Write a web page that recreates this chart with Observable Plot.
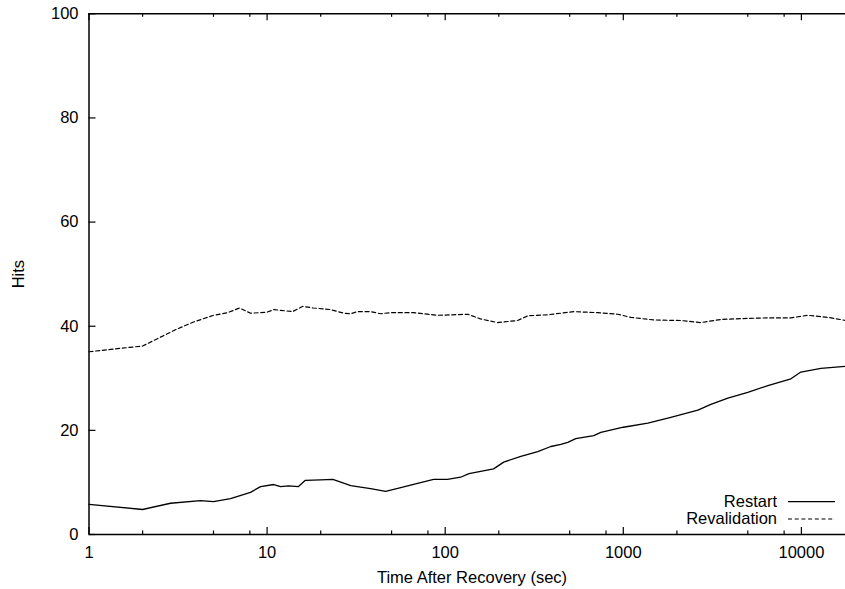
<!DOCTYPE html>
<html><head><meta charset="utf-8">
<script src="https://cdn.jsdelivr.net/npm/d3@7"></script>
<script src="https://cdn.jsdelivr.net/npm/@observablehq/plot@0.6"></script>
<style>html,body{margin:0;padding:0;background:#fff;overflow:hidden}</style>
</head><body><div id="chart"></div>
<script>
const restartTime = [1, 2, 2.87, 4.23, 5, 6.23, 8.07, 9.2, 10.9, 11.9, 13.2, 15, 16.4, 20, 23.4, 29.5, 38.1, 46.3, 56.3, 68.2, 86.1, 103, 122, 136, 187, 213, 266, 331, 392, 446, 488, 541, 683, 748, 1000, 1374, 1849, 2623, 3103, 3866, 5000, 6486, 8733, 9930, 12870, 17780];
const restartHits = [5.8, 4.8, 6.0, 6.5, 6.3, 6.9, 8.1, 9.2, 9.6, 9.2, 9.35, 9.2, 10.4, 10.5, 10.6, 9.4, 8.8, 8.3, 9.0, 9.7, 10.6, 10.6, 11.0, 11.7, 12.6, 13.9, 15.0, 15.9, 16.9, 17.3, 17.7, 18.4, 19.0, 19.6, 20.6, 21.4, 22.5, 23.9, 25.0, 26.2, 27.3, 28.6, 29.9, 31.2, 31.9, 32.3];
const revalTime = [1, 2, 2.52, 3.14, 3.86, 5, 6, 7, 8.07, 10, 10.9, 13.9, 15.8, 18.2, 22.7, 26.9, 29.5, 32.2, 38.1, 43.4, 49.4, 66.5, 90.7, 134, 158, 197, 255, 291, 377, 527, 719, 931, 1102, 1483, 2104, 2724, 3532, 5000, 6486, 8733, 10860, 14100, 17780];
const revalHits = [35.1, 36.2, 37.9, 39.5, 40.8, 42.1, 42.6, 43.5, 42.5, 42.7, 43.2, 42.8, 43.8, 43.5, 43.2, 42.5, 42.4, 42.8, 42.8, 42.4, 42.6, 42.6, 42.1, 42.3, 41.4, 40.7, 41.1, 42.0, 42.2, 42.8, 42.6, 42.3, 41.7, 41.2, 41.1, 40.7, 41.3, 41.5, 41.6, 41.6, 42.1, 41.7, 41.1];
const xMajorTicks = [1, 10, 100, 1000, 10000];
const xMinorTicks = [2, 5, 8, 20, 50, 80, 200, 500, 800, 2000, 5000, 8000];
const yTicks = [0, 20, 40, 60, 80, 100];
const seriesNames = ["Restart", "Revalidation"];
const xTitle = "Time After Recovery (sec)";
const yTitle = "Hits";

const restart = restartTime.map((t, i) => ({t, v: restartHits[i]}));
const reval = revalTime.map((t, i) => ({t, v: revalHits[i]}));

const W = 845, H = 589;
const mL = 88.5, mR = -9.5, mT = 13.3, mB = 55;
const plotW = W - mL - mR, plotH = H - mT - mB;
const majorLen = 7, minorLen = 3.5;
const font = "'Liberation Sans', Arial, Helvetica, sans-serif";
const fs = 16.5;

const chart = Plot.plot({
  width: W, height: H,
  marginLeft: mL, marginRight: mR, marginTop: mT, marginBottom: mB,
  style: {fontFamily: font, fontSize: fs + "px", color: "#000", background: "#fff", overflow: "hidden"},
  x: {type: "log", domain: [1, 20000]},
  y: {domain: [0, 100]},
  marks: [
    Plot.axisX({ticks: xMajorTicks, tickSize: 0, tickPadding: 12, tickFormat: d => String(d),
      label: xTitle, labelAnchor: "center", labelArrow: "none", labelOffset: 48, fill: "#000"}),
    Plot.axisY({ticks: yTicks, tickSize: 0, tickPadding: 10.5, tickFormat: d => String(d),
      label: yTitle, labelAnchor: "center", labelArrow: "none", labelOffset: 76.8, fill: "#000"}),
    // inward ticks: bottom and top
    Plot.tickX(xMajorTicks, {x: d => d, insetTop: plotH - majorLen, stroke: "#000", strokeWidth: 1.2}),
    Plot.tickX(xMajorTicks, {x: d => d, insetBottom: plotH - majorLen, stroke: "#000", strokeWidth: 1.2}),
    Plot.tickX(xMinorTicks, {x: d => d, insetTop: plotH - minorLen, stroke: "#000", strokeWidth: 1.2}),
    Plot.tickX(xMinorTicks, {x: d => d, insetBottom: plotH - minorLen, stroke: "#000", strokeWidth: 1.2}),
    Plot.tickY(yTicks, {y: d => d, insetRight: plotW - majorLen, stroke: "#000", strokeWidth: 1.2}),
    // border
    Plot.ruleY([0, 100], {y: d => d, stroke: "#000", strokeWidth: 1.5}),
    Plot.ruleX([1], {x: d => d, stroke: "#000", strokeWidth: 1.5}),
    // series
    Plot.line(restart, {x: "t", y: "v", stroke: "#000", strokeWidth: 1.3}),
    Plot.line(reval, {x: "t", y: "v", stroke: "#000", strokeWidth: 1.2, strokeDasharray: "4,2.7"})
  ]
});
document.getElementById("chart").appendChild(chart);

// legend (inside plot, bottom-right, gnuplot style)
const svg = d3.select(chart);
const leg = svg.append("g").attr("font-family", font).attr("font-size", fs).attr("fill", "#000");
const legendRows = [
  {name: seriesNames[0], dash: null, ty: 506.7, ly: 501.7},
  {name: seriesNames[1], dash: "4,2.7", ty: 524, ly: 519}
];
legendRows.forEach(r => {
  leg.append("text").attr("x", 777).attr("y", r.ty).attr("text-anchor", "end").text(r.name);
  leg.append("line").attr("x1", 788).attr("x2", 835).attr("y1", r.ly).attr("y2", r.ly)
    .attr("stroke", "#000").attr("stroke-width", 1.2).attr("stroke-dasharray", r.dash);
});
</script>
</body></html>
